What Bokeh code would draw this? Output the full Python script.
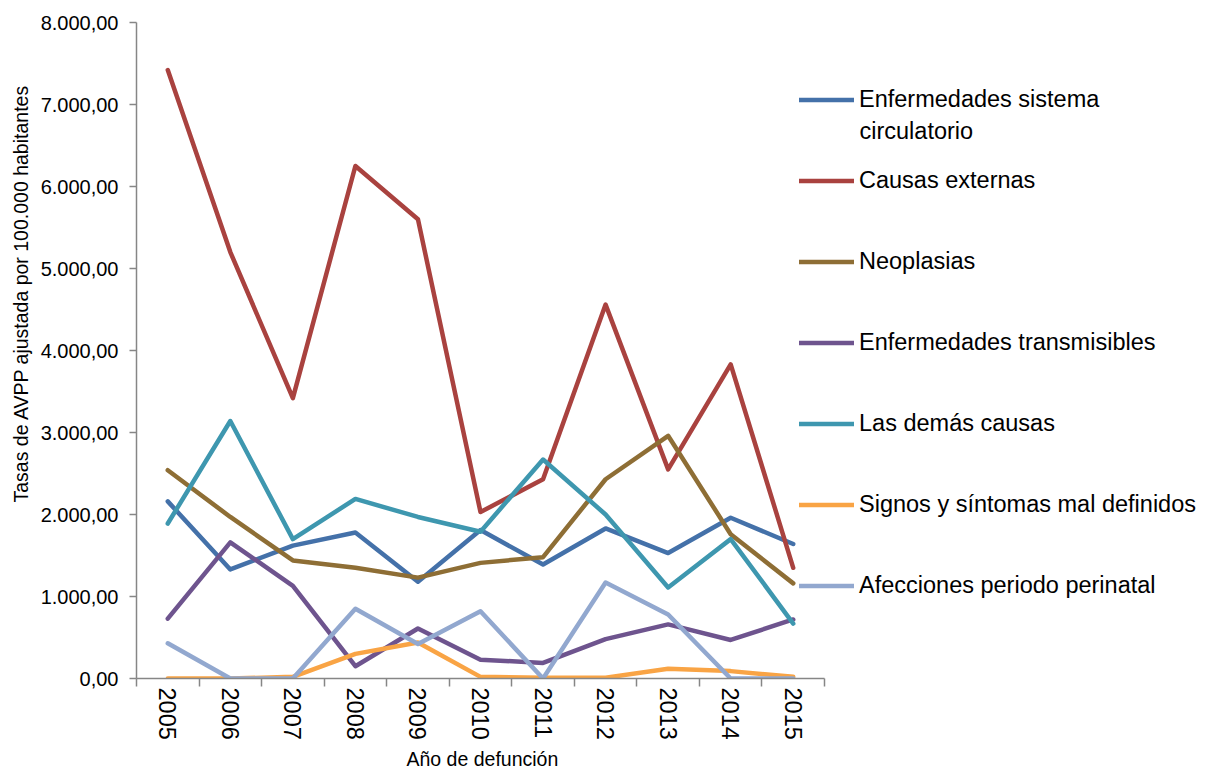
from bokeh.plotting import figure
from bokeh.models import Legend, LegendItem, FixedTicker, Label, Title
from bokeh.embed import file_html
from bokeh.resources import INLINE

years = [2005, 2006, 2007, 2008, 2009, 2010, 2011, 2012, 2013, 2014, 2015]
circulatorio = [2160, 1330, 1620, 1780, 1180, 1810, 1390, 1830, 1530, 1960, 1640]
externas = [7420, 5200, 3420, 6250, 5600, 2030, 2430, 4560, 2550, 3830, 1350]
neoplasias = [2540, 1970, 1440, 1350, 1230, 1410, 1480, 2430, 2960, 1760, 1160]
transmisibles = [730, 1660, 1130, 150, 610, 230, 190, 480, 660, 470, 720]
demas = [1890, 3140, 1700, 2190, 1970, 1790, 2670, 2000, 1110, 1700, 670]
signos = [0, 0, 20, 300, 440, 20, 10, 10, 120, 90, 20]
perinatal = [430, 0, 0, 850, 420, 820, 0, 1170, 780, 0, 0]

series_names = [
    "Enfermedades sistema",
    "Causas externas",
    "Neoplasias",
    "Enfermedades transmisibles",
    "Las demás causas",
    "Signos y síntomas mal definidos",
    "Afecciones periodo perinatal",
]
first_name_continuation = "circulatorio"
series_values = [circulatorio, externas, neoplasias, transmisibles, demas, signos, perinatal]
colors = ["#4471A9", "#A9423F", "#8E6E35", "#6E548E", "#3E97AF", "#F9A445", "#92A8CF"]

y_ticks = [0, 1000, 2000, 3000, 4000, 5000, 6000, 7000, 8000]
y_tick_labels = ["0,00", "1.000,00", "2.000,00", "3.000,00", "4.000,00",
                 "5.000,00", "6.000,00", "7.000,00", "8.000,00"]

x_title = "Año de defunción"
y_title = "Tasas de AVPP ajustada por 100.000 habitantes"

FONT = "Liberation Sans"
AXIS_COLOR = "#868686"

# layout constants (pixels)
BORDER_LEFT = 136
BORDER_TOP = 22
FRAME_W = 1066
FRAME_H = 656
AXIS_SPAN_PX = 688  # width occupied by the category axis

x_start = years[0] - 0.5
x_end_axis = years[-1] + 0.5
x_end = x_start + (x_end_axis - x_start) * FRAME_W / AXIS_SPAN_PX

p = figure(frame_width=FRAME_W, frame_height=FRAME_H, output_backend="svg",
           toolbar_location=None,
           x_range=(x_start, x_end), y_range=(0, 8000),
           min_border_left=BORDER_LEFT, min_border_right=0, min_border_top=BORDER_TOP,
           min_border_bottom=90)
p.outline_line_color = None
p.xgrid.visible = False
p.ygrid.visible = False
p.background_fill_color = "white"
p.border_fill_color = "white"

renderers = []
for vals, col in zip(series_values, colors):
    r = p.line(years, vals, line_color=col, line_width=4.5,
               line_join="round", line_cap="round")
    renderers.append(r)

# X axis
p.xaxis.bounds = (x_start, x_end_axis)
p.xaxis.ticker = FixedTicker(ticks=years,
                             minor_ticks=[y - 0.5 for y in years] + [x_end_axis])
p.xaxis.major_label_overrides = {y: str(y) for y in years}
p.xaxis.major_tick_line_color = None
p.xaxis.major_tick_out = 0
p.xaxis.major_tick_in = 0
p.xaxis.minor_tick_line_color = AXIS_COLOR
p.xaxis.minor_tick_line_width = 1.5
p.xaxis.minor_tick_out = 8
p.xaxis.minor_tick_in = 0
p.xaxis.major_label_orientation = "vertical"
p.xaxis.major_label_standoff = 1
p.xaxis.major_label_text_font = FONT
p.xaxis.major_label_text_font_size = "23.5px"
p.xaxis.major_label_text_color = "black"
p.xaxis.axis_line_color = AXIS_COLOR
p.xaxis.axis_line_width = 1.5

# Y axis
p.yaxis.ticker = FixedTicker(ticks=y_ticks, minor_ticks=[])
p.yaxis.major_label_overrides = dict(zip(y_ticks, y_tick_labels))
p.yaxis.major_tick_line_color = AXIS_COLOR
p.yaxis.major_tick_line_width = 1.5
p.yaxis.major_tick_out = 7
p.yaxis.major_tick_in = 0
p.yaxis.minor_tick_line_color = None
p.yaxis.major_label_standoff = 11
p.yaxis.major_label_text_font = FONT
p.yaxis.major_label_text_font_size = "20px"
p.yaxis.major_label_text_color = "black"
p.yaxis.axis_line_color = AXIS_COLOR
p.yaxis.axis_line_width = 1.5

# Axis titles as side-panel titles (positioned along the category axis)
xt = Title(text=x_title, align="left", offset=270, standoff=6,
           text_font=FONT, text_font_size="19.5px", text_font_style="normal",
           text_color="black")
p.add_layout(xt, "below")
yt = Title(text=y_title, align="left", offset=176, standoff=12,
           text_font=FONT, text_font_size="19.5px", text_font_style="normal",
           text_color="black")
p.add_layout(yt, "left")

# Legend (inside the wide frame, right of the category axis)
LEG_X = 663
GLYPH_W = 55
STANDOFF = 5
items = [LegendItem(label=n, renderers=[r]) for n, r in zip(series_names, renderers)]
legend = Legend(items=items, location=(LEG_X, 78), glyph_width=GLYPH_W, glyph_height=29,
                spacing=52, padding=0, margin=0, label_standoff=STANDOFF,
                label_text_font=FONT, label_text_font_size="23.5px",
                label_text_color="black", border_line_color=None,
                background_fill_alpha=0)
p.add_layout(legend)

cont = Label(x=LEG_X + GLYPH_W + STANDOFF, y=FRAME_H - 108, x_units="screen", y_units="screen",
             text=first_name_continuation, text_font=FONT, text_font_size="23.5px",
             text_color="black", text_baseline="middle", text_align="left")
p.add_layout(cont)

open("out.html", "w").write(file_html(p, INLINE))
